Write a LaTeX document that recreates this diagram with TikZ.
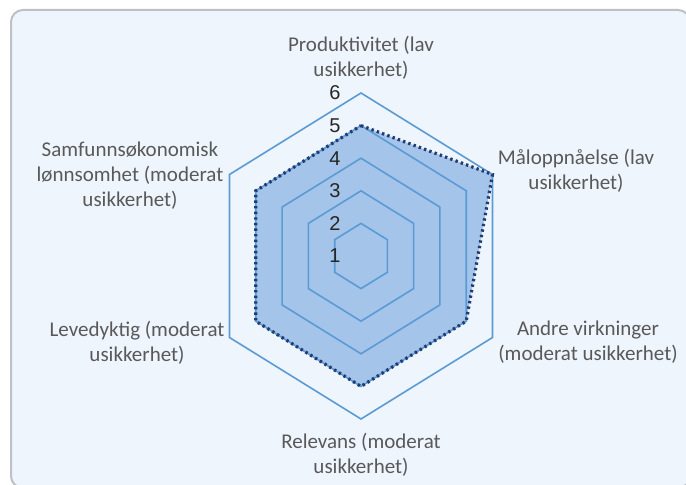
\documentclass[tikz,border=0pt]{standalone}
\usepackage{fontspec}
\setmainfont{Carlito}
\newfontfamily\numfont{Liberation Sans}
\usepackage{xcolor}
\usepackage{tikz}

\definecolor{panelbg}{RGB}{238,245,253}
\definecolor{panelrim}{RGB}{190,192,197}
\definecolor{gridblue}{RGB}{91,155,213}
\definecolor{areablue}{RGB}{164,196,234}
\definecolor{lineblue}{RGB}{34,60,115}
\definecolor{labelgray}{RGB}{89,89,89}

\tikzset{
  gridline/.style={draw=gridblue, line width=0.8pt},
  arealine/.style={draw=lineblue, line width=1.6pt, dash pattern=on 1.2pt off 1.6pt},
  axislabel/.style={font=\fontsize{10.5}{12.5}\selectfont, text=labelgray, align=center, inner sep=0pt},
  ticklabel/.style={font=\numfont\fontsize{10}{11}\selectfont, text=black!85, inner sep=0pt},
}

\begin{document}
\begin{tikzpicture}[x=0.5pt,y=-0.5pt]
				\useasboundingbox (0,0) rectangle (686,485);
				% Panel
				\draw[panelrim, fill=panelbg, line width=1pt, rounded corners=6pt] (11,10) rectangle (690,488);
				
				% Radar chart
				\begin{scope}[shift={(361,256)}, x=0.4658pt, y=0.5pt]
					% data area
					\coordinate (d1) at (90:130.4);
					\coordinate (d2) at (30:163);
					\coordinate (d3) at (-30:130.4);
					\coordinate (d4) at (-90:130.4);
					\coordinate (d5) at (-150:130.4);
					\coordinate (d6) at (150:130.4);
					\fill[areablue] (d1) -- (d2) -- (d3) -- (d4) -- (d5) -- (d6) -- cycle;
					
					% grid
					\foreach \lv in {2,...,6}
						\draw[gridline] (90:{(\lv-1)*32.6}) -- (30:{(\lv-1)*32.6}) -- (-30:{(\lv-1)*32.6})
							-- (-90:{(\lv-1)*32.6}) -- (-150:{(\lv-1)*32.6}) -- (150:{(\lv-1)*32.6}) -- cycle;
					
					% dotted series
					\draw[arealine] (d1) -- (d2) -- (d3) -- (d4) -- (d5) -- (d6) -- cycle;
				\end{scope}
				
				% Scale
				\foreach \lv in {1,...,6}
					\node[ticklabel] (tick\lv) at (335,{256-(\lv-1)*32.6}) {\lv};
				
				% Axis labels
				\node[axislabel] (prod) at (361,58) {Produktivitet (lav\\usikkerhet)};
				\node[axislabel] (maal) at (576,171) {Måloppnåelse (lav\\usikkerhet)};
				\node[axislabel] (andre) at (588,342) {Andre virkninger\\(moderat usikkerhet)};
				\node[axislabel] (relev) at (361,455) {Relevans (moderat\\usikkerhet)};
				\node[axislabel] (leve) at (137,343) {Levedyktig (moderat\\usikkerhet)};
				\node[axislabel] (samf) at (130,176) {Samfunnsøkonomisk\\lønnsomhet (moderat\\usikkerhet)};
			\end{tikzpicture}
\end{document}
